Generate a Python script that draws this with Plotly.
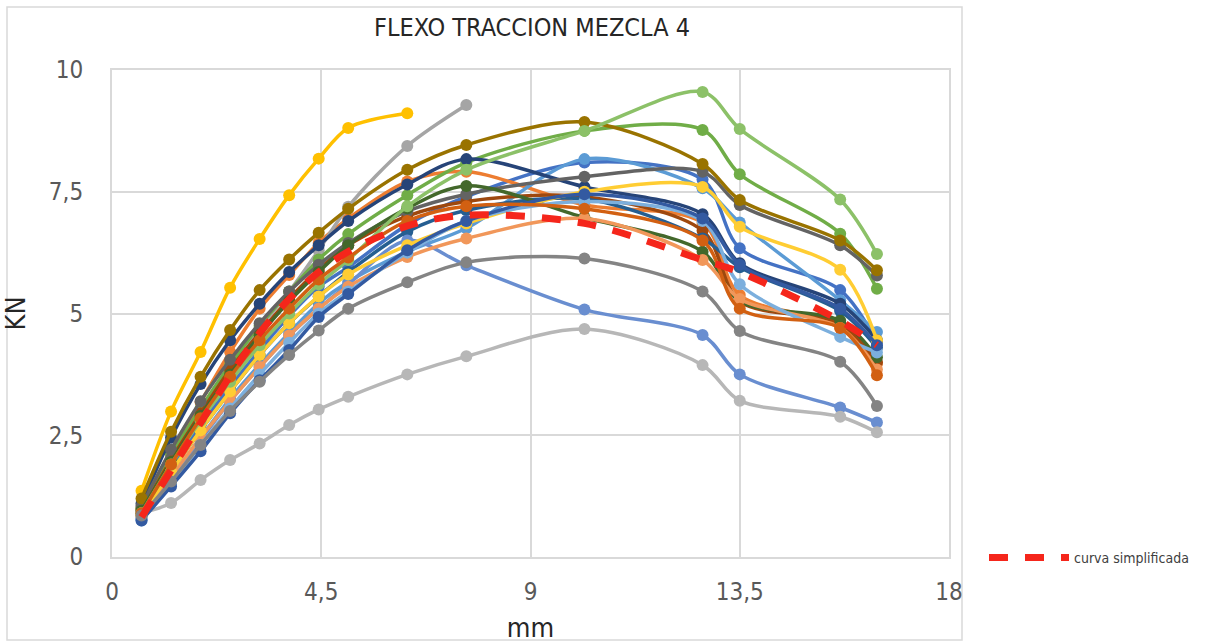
import plotly.graph_objects as go

# x positions (mm)
X = [0.635, 1.27, 1.905, 2.54, 3.175, 3.81, 4.445, 5.08, 6.35, 7.62, 10.16, 12.7, 13.5, 15.66, 16.45]

s01 = [0.85, 1.8, 2.7, 3.5, 4.25, 4.95, 5.55, 5.95, 6.82, 7.4, 8.1, 7.75, 6.34, 5.48, 4.4]
s02 = [1.0, 2.12, 3.18, 4.21, 5.1, 5.79, 6.45, 6.95, 7.71, 7.91, 7.23, 6.86, 5.38, 4.76, 3.97]
s03 = [1.0, 2.0, 2.95, 3.87, 4.7, 5.45, 6.3, 7.19, 8.44, 9.28]
s04 = [1.36, 2.99, 4.21, 5.53, 6.53, 7.43, 8.18, 8.81, 9.11]
s05 = [0.78, 1.6, 2.45, 3.25, 3.95, 4.6, 5.21, 5.65, 6.27, 6.75, 8.17, 7.57, 6.87, 5.27, 4.62]
s06 = [1.0, 2.1, 3.05, 3.95, 4.75, 5.45, 6.11, 6.63, 7.43, 8.1, 8.75, 8.77, 7.86, 6.64, 5.51]
s07 = [1.1, 2.45, 3.55, 4.45, 5.2, 5.85, 6.4, 6.9, 7.65, 8.17, 7.6, 7.04, 6.03, 5.2, 4.45]
s08 = [0.95, 2.0, 2.95, 3.85, 4.6, 5.3, 5.9, 6.4, 7.0, 7.3, 7.4, 6.7, 5.25, 4.8, 4.0]
s09 = [1.05, 2.2, 3.2, 4.05, 4.8, 5.45, 6.0, 6.45, 7.1, 7.45, 7.81, 7.91, 7.23, 6.40, 5.78]
s10 = [1.2, 2.57, 3.7, 4.66, 5.48, 6.11, 6.66, 7.15, 7.95, 8.46, 8.93, 8.07, 7.33, 6.5, 5.89]
s11 = [0.9, 1.75, 2.6, 3.4, 4.15, 4.8, 5.35, 5.85, 6.68, 7.12, 7.35, 6.54, 5.95, 5.05, 4.3]
s12 = [0.95, 1.95, 2.9, 3.75, 4.55, 5.25, 5.85, 6.4, 7.16, 7.62, 6.97, 6.27, 5.25, 4.85, 4.1]
s13 = [0.8, 1.6, 2.4, 3.2, 3.9, 4.55, 5.1, 5.6, 6.5, 5.99, 5.08, 4.56, 3.75, 3.07, 2.76]
s14 = [0.85, 1.65, 2.45, 3.2, 3.9, 4.55, 5.1, 5.55, 6.16, 6.54, 6.95, 6.1, 5.3, 4.7, 3.85]
s15 = [0.9, 1.11, 1.58, 1.99, 2.33, 2.71, 3.03, 3.29, 3.75, 4.12, 4.68, 3.94, 3.21, 2.88, 2.56]
s16 = [0.85, 1.75, 2.6, 3.4, 4.15, 4.8, 5.35, 5.8, 6.4, 6.85, 7.5, 7.6, 6.78, 5.9, 4.45]
s17 = [0.75, 1.5, 2.3, 3.05, 3.75, 4.4, 5.0, 5.45, 6.25, 6.9, 7.3, 6.9, 5.6, 4.52, 4.2]
s18 = [0.9, 1.9, 2.8, 3.6, 4.35, 5.0, 5.6, 6.1, 7.2, 7.95, 8.75, 9.55, 8.79, 7.34, 6.22]
s19 = [0.75, 1.45, 2.17, 2.95, 3.63, 4.25, 4.93, 5.4, 6.3, 6.9, 7.45, 6.95, 6.0, 5.1, 4.35]
s20 = [0.9, 1.9, 2.85, 3.7, 4.45, 5.1, 5.7, 6.15, 6.9, 7.2, 7.15, 6.5, 5.1, 4.7, 3.73]
s21 = [0.85, 1.55, 2.3, 3.0, 3.6, 4.15, 4.65, 5.1, 5.64, 6.05, 6.13, 5.45, 4.64, 4.01, 3.10]
curva = [0.82, 1.78, 2.75, 3.72, 4.6, 5.3, 5.85, 6.27, 6.8, 7.02, 6.85, 6.1, 5.85, 4.85, 4.35]

series = [s01, s02, s03, s04, s05, s06, s07, s08, s09, s10, s11, s12, s13, s14, s15, s16, s17, s18, s19, s20, s21]
colors = ["#4472C4", "#ED7D31", "#A5A5A5", "#FFC000", "#5B9BD5", "#70AD47",
          "#264478", "#9E480E", "#636363", "#997300", "#255E91", "#43682B",
          "#698ED0", "#F1975A", "#B7B7B7", "#FFCD33", "#7CAFDD", "#8CC168",
          "#335AA1", "#D26012", "#848484"]

x_tickvals = [0, 4.5, 9, 13.5, 18]
x_ticktext = ["0", "4,5", "9", "13,5", "18"]
y_tickvals = [0, 2.5, 5, 7.5, 10]
y_ticktext = ["0", "2,5", "5", "7,5", "10"]

FONT = "Liberation Sans Narrow, DejaVu Sans Condensed, Liberation Sans, Arial"

fig = go.Figure()
for i, (ys, c) in enumerate(zip(series, colors)):
    fig.add_trace(go.Scatter(
        x=X[:len(ys)], y=ys, mode="lines+markers",
        line=dict(color=c, width=3.5, shape="spline", smoothing=0.9),
        marker=dict(color=c, size=12),
        showlegend=False, name=f"Serie {i+1}"))

fig.add_trace(go.Scatter(
    x=X, y=curva, mode="lines", name="curva simplificada",
    line=dict(color="#F5261B", width=7, dash="19px,17px", shape="spline", smoothing=0.9),
    showlegend=True))

L, R, T, B = 112, 949, 70, 557
W, H = 1215, 643

def px(xp):
    return (xp - L) / (R - L)

def py(yp):
    return (B - yp) / (B - T)

fig.update_layout(
    width=W, height=H,
    margin=dict(l=L, r=W - R, t=T, b=H - B, autoexpand=False),
    paper_bgcolor="white", plot_bgcolor="white",
    title=dict(text="FLEXO TRACCION MEZCLA 4", x=532 / W, xanchor="center",
               y=1 - 27 / H, yanchor="middle",
               font=dict(family=FONT, size=25, color="#262626")),
    xaxis=dict(range=[0, 18], tickvals=x_tickvals, ticktext=x_ticktext,
               showgrid=True, gridcolor="#D9D9D9", gridwidth=2,
               showline=True, mirror=True, linecolor="#D9D9D9", linewidth=2,
               zeroline=False, ticks="", ticklabelstandoff=12,
               tickfont=dict(family=FONT, size=24, color="#595959"),
               title=dict(text="mm", standoff=14,
                          font=dict(family=FONT, size=27, color="#262626"))),
    yaxis=dict(range=[0, 10], tickvals=y_tickvals, ticktext=y_ticktext,
               showgrid=True, gridcolor="#D9D9D9", gridwidth=2,
               showline=True, mirror=True, linecolor="#D9D9D9", linewidth=2,
               zeroline=False, ticks="", ticklabelstandoff=22,
               tickfont=dict(family=FONT, size=24, color="#595959"),
               title=dict(text="KN", standoff=16,
                          font=dict(family=FONT, size=27, color="#262626"))),
    legend=dict(x=px(984), y=py(558), xanchor="left", yanchor="middle",
                bgcolor="rgba(0,0,0,0)", itemwidth=80,
                font=dict(family=FONT, size=14, color="#404040")),
    shapes=[dict(type="rect", xref="paper", yref="paper",
                 x0=px(7), x1=px(962), y0=py(7), y1=py(640),
                 line=dict(color="#D9D9D9", width=1.5), layer="below")],
)

fig.write_html("out.html")
